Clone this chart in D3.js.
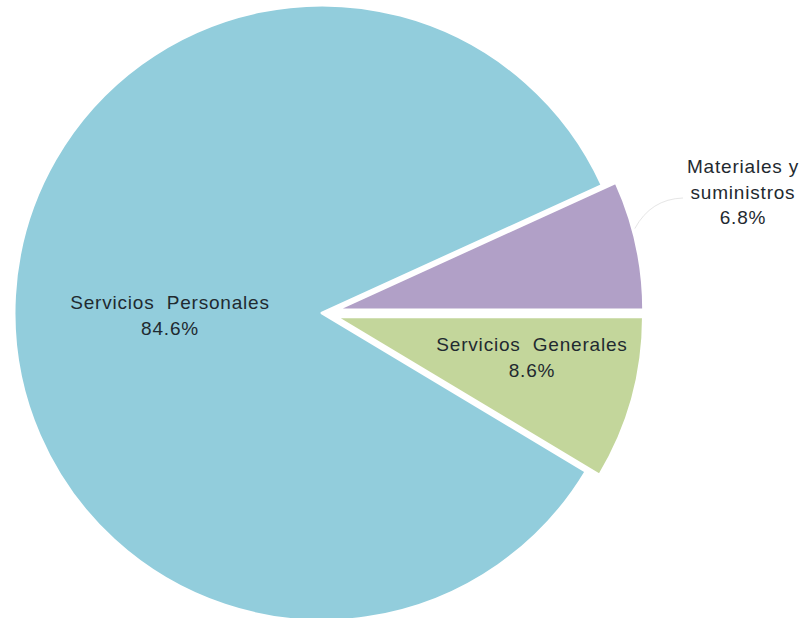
<!DOCTYPE html>
<html><head><meta charset="utf-8">
<script src="https://cdn.jsdelivr.net/npm/d3@7"></script>
<style>html,body{margin:0;padding:0;background:#fff;}svg{display:block;}</style>
</head><body>
<svg id="chart" width="806" height="618"></svg>
<script>
const categories = ["Materiales y suministros", "Servicios Generales", "Servicios Personales"];
const labelLines = [["Materiales y", "suministros"], ["Servicios  Generales"], ["Servicios  Personales"]];
const values = [6.8, 8.6, 84.6];
const colors = ["#B1A0C7", "#C3D69B", "#92CDDC"];
const explode = [14, 14, 0];

const svg = d3.select("#chart");
const cx = 322, cy = 313, R = 308;
const startDeg = 90 - values[0] / 100 * 360;

const pie = d3.pie().sort(null).value(d => d)
  .startAngle(startDeg * Math.PI / 180)
  .endAngle((startDeg + 360) * Math.PI / 180);
const arcs = pie(values);
const arc = d3.arc().innerRadius(0).outerRadius(R);

const g = svg.append("g").attr("transform", `translate(${cx},${cy})`);

arcs.forEach((a, i) => {
  const mid = (a.startAngle + a.endAngle) / 2;
  const dx = Math.sin(mid) * explode[i], dy = -Math.cos(mid) * explode[i];
  g.append("path")
    .attr("d", arc(a))
    .attr("transform", `translate(${dx},${dy})`)
    .attr("fill", colors[i])
    .attr("stroke", "#fff")
    .attr("stroke-width", 3)
    .attr("stroke-linejoin", "round");
});

const labelPos = [
  { x: 743, y: 173 },
  { x: 532, y: 351 },
  { x: 170, y: 309 }
];
function polar(angle, r) { return [cx + Math.sin(angle) * r, cy - Math.cos(angle) * r]; }

// leader line for external label
{
  const a = arcs[0];
  const mid = (a.startAngle + a.endAngle) / 2;
  const p0 = polar(mid - 0.05, R + 16);
  const p1 = polar(mid - 0.12, R + 40);
  svg.append("path")
    .attr("d", `M${p0[0]},${p0[1]} Q${p1[0]},${p1[1]} 683,198`)
    .attr("fill", "none")
    .attr("stroke", "#e6e6e6")
    .attr("stroke-width", 1);
}

arcs.forEach((a, i) => {
  const lines = labelLines[i].concat([d3.format(".1f")(values[i]) + "%"]);
  const t = svg.append("text")
    .attr("text-anchor", "middle")
    .attr("font-family", "'Liberation Sans', Arial, sans-serif")
    .attr("font-size", 19)
    .attr("letter-spacing", 0.8)
    .attr("fill", "#1f2a30")
    .style("white-space", "pre");
  lines.forEach((ln, j) => {
    t.append("tspan")
      .attr("x", labelPos[i].x)
      .attr("y", labelPos[i].y + j * 25.5)
      .text(ln);
  });
});
</script>
</body></html>
